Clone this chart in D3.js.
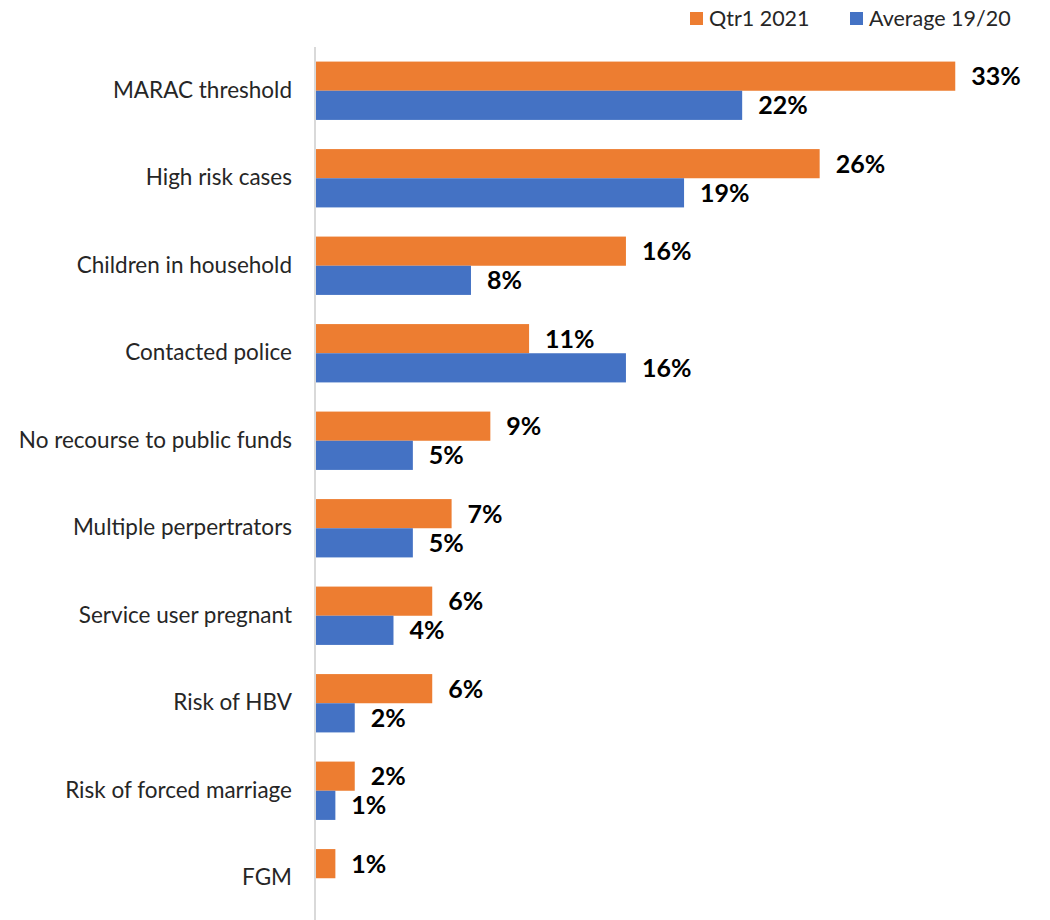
<!DOCTYPE html>
<html>
<head>
<meta charset="utf-8">
<script src="https://cdn.jsdelivr.net/npm/d3@7"></script>
<style>
  html, body { margin: 0; padding: 0; background: #ffffff; }
  svg { display: block; }
</style>
</head>
<body>
<svg id="chart" width="1050" height="920"></svg>
<script>
// Risk factors among service users, current quarter vs previous-year average (%)
const categories = [
  "MARAC threshold",
  "High risk cases",
  "Children in household",
  "Contacted police",
  "No recourse to public funds",
  "Multiple perpertrators",
  "Service user pregnant",
  "Risk of HBV",
  "Risk of forced marriage",
  "FGM"
];
const seriesNames = ["Qtr1 2021", "Average 19/20"];
const qtr1Values = [33, 26, 16, 11, 9, 7, 6, 6, 2, 1];
const avgValues = [22, 19, 8, 16, 5, 5, 4, 2, 1, null];

const colors = { "Qtr1 2021": "#ED7D31", "Average 19/20": "#4472C4" };
const seriesValues = { "Qtr1 2021": qtr1Values, "Average 19/20": avgValues };

const svg = d3.select("#chart");
const axisX = 316;

const x = d3.scaleLinear().domain([0, 35]).range([axisX, 994]);
const y = d3.scaleBand().domain(categories).range([47, 922]).padding(0);
const yInner = d3.scaleBand().domain(seriesNames).range([0, y.bandwidth()])
  .paddingInner(0).paddingOuter(0.5);

const labelFont = "Lato, 'Liberation Sans', Arial, sans-serif";

// bars
const groups = svg.append("g").selectAll("g")
  .data(categories)
  .join("g")
  .attr("transform", d => `translate(0,${y(d)})`);

seriesNames.forEach(s => {
  groups.append("rect")
    .filter((d, i) => seriesValues[s][i] != null)
    .attr("x", x(0))
    .attr("y", yInner(s))
    .attr("width", (d) => x(seriesValues[s][categories.indexOf(d)]) - x(0))
    .attr("height", yInner.bandwidth())
    .attr("fill", colors[s]);
});

// value labels
seriesNames.forEach(s => {
  groups.filter((d, i) => seriesValues[s][i] != null)
    .append("text")
    .attr("x", d => x(seriesValues[s][categories.indexOf(d)]) + 16)
    .attr("y", yInner(s) + yInner.bandwidth() / 2)
    .attr("dy", "0.36em")
    .attr("font-family", labelFont)
    .attr("font-weight", "bold")
    .attr("font-size", 25)
    .attr("fill", "#000000")
    .text(d => seriesValues[s][categories.indexOf(d)] + "%");
});

// category axis
const yAxis = d3.axisLeft(y).tickSize(0).tickPadding(23);
const axisG = svg.append("g")
  .attr("transform", `translate(${axisX - 1},0)`)
  .call(yAxis);
axisG.select(".domain").remove();
axisG.selectAll("text")
  .attr("font-family", labelFont)
  .attr("font-size", 22.5)
  .attr("fill", "#262626");

svg.append("line")
  .attr("x1", axisX - 1).attr("x2", axisX - 1)
  .attr("y1", 47).attr("y2", 920)
  .attr("stroke", "#D9D9D9")
  .attr("stroke-width", 2);

// legend
const legendItems = [
  { name: "Qtr1 2021", x: 690 },
  { name: "Average 19/20", x: 850 }
];
const legend = svg.append("g").selectAll("g")
  .data(legendItems)
  .join("g")
  .attr("transform", d => `translate(${d.x},12)`);
legend.append("rect")
  .attr("width", 13).attr("height", 13)
  .attr("fill", d => colors[d.name]);
legend.append("text")
  .attr("x", 19)
  .attr("y", 6.5)
  .attr("dy", "0.36em")
  .attr("font-family", labelFont)
  .attr("font-size", 21.5)
  .attr("fill", "#262626")
  .text(d => d.name);
</script>
</body>
</html>
